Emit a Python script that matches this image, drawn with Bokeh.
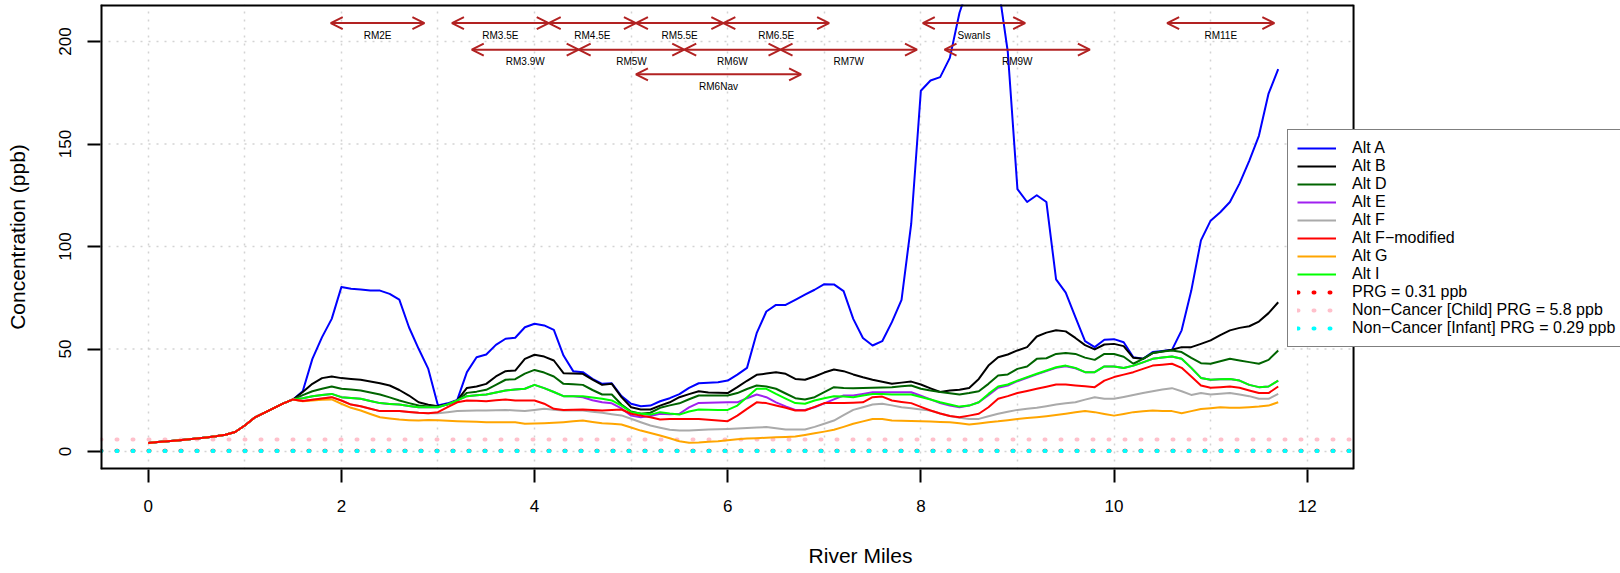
from bokeh.plotting import figure
from bokeh.models import (ColumnDataSource, Range1d, FixedTicker, Legend, LegendItem,
                          Arrow, OpenHead)
from bokeh.core.properties import value
from bokeh.embed import file_html
from bokeh.resources import INLINE

FONT = "Liberation Sans"

# ---------------- data ----------------
river_mile = [
    0.0, 0.1, 0.2, 0.3, 0.4, 0.5, 0.6, 0.7, 0.8, 0.9,
    1.0, 1.1, 1.2, 1.3, 1.4, 1.5, 1.6, 1.7, 1.8, 1.9,
    2.0, 2.1, 2.2, 2.3, 2.4, 2.5, 2.6, 2.7, 2.8, 2.9,
    3.0, 3.1, 3.2, 3.3, 3.4, 3.5, 3.6, 3.7, 3.8, 3.9,
    4.0, 4.1, 4.2, 4.3, 4.4, 4.5, 4.6, 4.7, 4.8, 4.9,
    5.0, 5.1, 5.2, 5.3, 5.4, 5.5, 5.6, 5.7, 5.8, 5.9,
    6.0, 6.1, 6.2, 6.3, 6.4, 6.5, 6.6, 6.7, 6.8, 6.9,
    7.0, 7.1, 7.2, 7.3, 7.4, 7.5, 7.6, 7.7, 7.8, 7.9,
    8.0, 8.1, 8.2, 8.3, 8.4, 8.5, 8.6, 8.7, 8.8, 8.9,
    9.0, 9.1, 9.2, 9.3, 9.4, 9.5, 9.6, 9.7, 9.8, 9.9,
    10.0, 10.1, 10.2, 10.3, 10.4, 10.5, 10.6, 10.7, 10.8, 10.9,
    11.0, 11.1, 11.2, 11.3, 11.4, 11.5, 11.6, 11.7,
]

# shared upstream part (RM 0.0 - 1.5)
upstream = [4.2, 4.6, 5.0, 5.4, 5.8, 6.3, 6.8, 7.4, 8.2, 9.5,
            12.7, 16.5, 18.8, 21.2, 23.5, 25.4]

alt_a = upstream + [
    29.4, 45.2, 55.8, 64.7, 80.2, 79.4, 79.0, 78.5, 78.5, 76.9,
    74.1, 60.6, 50.1, 40.3, 22.4, 23.5, 25.2, 38.7, 46.0, 47.3,
    52.0, 55.0, 55.5, 60.6, 62.3, 61.5, 59.3, 46.8, 39.2, 38.7,
    35.4, 33.0, 33.3, 27.0, 23.3, 22.1, 22.4, 24.5, 26.0, 28.0,
    31.0, 33.3, 33.5, 33.8, 34.6, 37.5, 40.8, 57.7, 68.3, 71.5,
    71.5, 74.0, 76.5, 78.9, 81.6, 81.5, 78.2, 64.7, 55.4, 51.7,
    53.8, 63.1, 74.0, 111.0, 176.0, 181.0, 182.6, 192.0, 214.0, 228.0,
    235.0, 233.0, 228.0, 195.0, 128.0, 121.7, 125.0, 121.7, 84.0, 77.5,
    65.5, 53.8, 50.9, 54.5, 54.8, 53.3, 46.0, 45.2, 48.5, 49.0,
    49.6, 59.1, 78.5, 103.0, 112.6, 116.7, 121.7, 130.8, 141.8, 154.0,
    174.6, 186.5]

alt_b = upstream + [
    29.0, 33.0, 35.8, 36.6, 35.8, 35.4, 35.0, 34.2, 33.3, 32.2,
    30.0, 27.3, 24.0, 22.8, 22.1, 23.0, 24.9, 31.0, 31.7, 33.0,
    36.6, 39.2, 39.5, 45.2, 47.2, 46.3, 44.4, 38.2, 38.0, 37.9,
    35.1, 32.5, 33.0, 26.5, 21.6, 20.5, 20.5, 22.4, 24.0, 26.5,
    28.0, 29.4, 28.8, 28.6, 28.5, 31.4, 34.5, 37.4, 38.0, 38.7,
    37.9, 35.4, 35.0, 36.6, 38.5, 40.0, 39.2, 37.6, 36.2, 35.0,
    34.0, 33.0, 33.6, 34.1, 32.7, 30.8, 29.0, 29.8, 30.1, 31.0,
    35.4, 41.9, 46.0, 47.3, 49.3, 50.9, 56.1, 58.0, 59.1, 58.6,
    55.4, 51.9, 49.8, 52.2, 52.5, 51.4, 45.7, 45.2, 48.0, 48.8,
    49.6, 50.9, 50.9, 52.5, 54.2, 56.8, 59.1, 60.3, 61.1, 63.4,
    67.5, 72.8]

alt_d = upstream + [
    27.5, 29.4, 30.6, 31.7, 30.6, 30.2, 29.8, 28.8, 27.8, 26.4,
    24.9, 23.6, 22.4, 22.0, 21.9, 23.0, 24.9, 28.6, 29.2, 30.1,
    32.5, 35.0, 35.3, 38.0, 39.8, 38.5, 36.6, 33.0, 32.8, 32.5,
    30.0, 27.8, 27.8, 22.9, 19.5, 18.4, 18.9, 21.3, 22.5, 23.5,
    25.5, 27.3, 27.3, 27.3, 27.3, 28.5, 30.5, 32.2, 31.7, 30.6,
    28.3, 26.0, 25.4, 26.5, 29.0, 31.4, 31.0, 30.9, 31.0, 31.1,
    31.2, 31.4, 31.8, 32.2, 30.6, 29.8, 29.0, 28.4, 27.8, 28.5,
    29.4, 33.0, 37.1, 37.6, 40.3, 41.5, 45.2, 45.5, 47.6, 48.1,
    47.6, 45.8, 44.7, 47.6, 47.6, 46.2, 42.8, 45.2, 48.0, 48.8,
    49.3, 48.5, 45.7, 43.1, 42.8, 44.0, 45.2, 44.4, 43.6, 42.8,
    44.7, 49.3]

alt_e = upstream + [
    26.0, 27.0, 27.6, 28.1, 26.5, 26.1, 25.7, 24.6, 23.6, 23.2,
    22.9, 22.2, 21.6, 21.6, 21.6, 23.0, 24.9, 27.0, 27.4, 27.8,
    28.8, 29.8, 30.2, 30.6, 32.5, 30.9, 29.0, 27.0, 27.0, 26.5,
    25.0, 24.0, 23.5, 21.0, 17.5, 16.7, 17.3, 18.4, 18.2, 18.4,
    21.5, 23.7, 23.8, 23.9, 24.0, 24.0, 26.0, 27.8, 26.5, 24.0,
    22.0, 20.3, 20.3, 21.6, 23.5, 25.4, 27.3, 27.3, 28.1, 28.9,
    28.9, 28.9, 28.9, 28.9, 27.2, 25.4, 23.6, 22.4, 21.6, 22.4,
    24.0, 27.5, 31.1, 32.2, 34.3, 36.0, 37.6, 39.2, 40.8, 41.6,
    40.6, 38.7, 38.7, 41.5, 41.5, 40.7, 41.9, 43.5, 45.2, 45.8,
    46.3, 45.2, 40.8, 35.9, 35.0, 35.2, 35.4, 34.6, 32.5, 31.4,
    31.7, 34.6]

alt_f = upstream + [
    24.6, 25.2, 25.8, 26.5, 24.9, 22.9, 22.1, 20.9, 19.7, 19.7,
    19.7, 19.3, 18.9, 18.7, 18.7, 19.2, 19.7, 19.9, 20.0, 20.0,
    20.1, 20.3, 20.0, 19.7, 20.3, 20.8, 20.4, 20.0, 20.0, 20.0,
    19.4, 18.9, 18.2, 17.6, 16.0, 14.3, 12.7, 11.6, 10.6, 10.2,
    10.3, 10.5, 10.7, 10.9, 11.0, 11.2, 11.5, 11.7, 11.9, 11.3,
    10.7, 10.7, 10.7, 12.0, 13.5, 15.1, 17.7, 20.3, 21.6, 22.9,
    23.3, 22.5, 21.6, 21.1, 20.5, 20.0, 18.5, 17.3, 16.5, 15.9,
    15.9, 17.2, 18.4, 19.4, 20.3, 20.8, 21.3, 22.1, 22.9, 23.5,
    24.0, 25.3, 26.5, 25.7, 25.7, 26.6, 27.6, 28.5, 29.4, 30.2,
    30.9, 29.4, 27.6, 28.5, 27.8, 28.2, 28.5, 27.8, 27.0, 25.7,
    25.7, 28.1]

alt_f_mod = upstream + [
    24.6, 25.2, 25.8, 26.5, 24.9, 22.9, 22.1, 20.9, 19.7, 19.7,
    19.7, 19.3, 18.9, 18.7, 19.2, 21.6, 24.0, 24.9, 24.7, 24.5,
    25.0, 25.4, 24.9, 24.9, 24.9, 23.3, 20.8, 20.3, 20.4, 20.5,
    20.2, 20.0, 20.2, 20.5, 18.4, 17.5, 16.7, 15.6, 15.8, 15.9,
    15.9, 15.9, 15.5, 15.1, 14.8, 17.5, 20.8, 24.0, 23.6, 22.4,
    21.3, 20.0, 20.0, 21.8, 23.6, 23.6, 23.7, 23.8, 24.0, 26.5,
    26.8, 24.9, 24.2, 23.6, 21.8, 20.0, 18.5, 17.3, 16.7, 17.5,
    18.4, 21.6, 25.7, 27.0, 28.5, 29.5, 30.6, 31.6, 32.7, 32.7,
    32.2, 31.8, 31.4, 34.6, 36.3, 37.5, 38.7, 40.3, 41.9, 42.3,
    42.8, 40.8, 36.6, 32.2, 31.1, 31.4, 31.7, 31.1, 29.8, 28.5,
    28.5, 31.7]

alt_g = upstream + [
    24.5, 24.9, 25.2, 25.4, 23.3, 21.3, 20.0, 18.3, 16.7, 16.1,
    15.6, 15.3, 15.1, 15.4, 15.2, 15.0, 14.8, 14.6, 14.5, 14.3,
    14.3, 14.3, 14.3, 13.5, 13.7, 13.8, 14.0, 14.3, 14.7, 15.1,
    14.4, 13.8, 13.5, 13.2, 11.7, 10.2, 9.0, 7.8, 6.5, 5.0,
    4.3, 4.4, 4.7, 5.0, 5.5, 6.0, 6.3, 6.5, 6.7, 6.9,
    7.1, 7.3, 8.1, 8.9, 9.7, 10.6, 12.0, 13.5, 14.7, 15.9,
    15.9, 15.1, 15.0, 14.9, 14.8, 14.6, 14.4, 14.3, 13.8, 13.2,
    13.7, 14.3, 14.7, 15.3, 15.9, 16.3, 16.7, 17.2, 17.8, 18.4,
    19.1, 19.7, 19.2, 18.3, 17.5, 18.3, 19.2, 19.6, 20.0, 19.8,
    19.7, 18.7, 19.7, 20.7, 21.1, 21.6, 21.4, 21.3, 21.6, 21.9,
    22.4, 24.0]

alt_i = upstream + [
    26.0, 27.0, 27.6, 28.1, 26.5, 26.1, 25.7, 24.6, 23.6, 23.2,
    22.9, 22.2, 21.6, 21.6, 21.6, 23.0, 24.9, 27.0, 27.4, 27.8,
    28.8, 29.8, 30.2, 30.6, 32.5, 30.9, 29.0, 27.0, 27.0, 27.0,
    26.3, 25.7, 24.9, 22.4, 19.2, 18.5, 18.0, 19.2, 18.5, 18.0,
    19.5, 20.5, 20.4, 20.3, 20.3, 22.4, 26.5, 30.6, 30.6, 28.1,
    25.8, 23.6, 23.3, 24.9, 26.0, 27.0, 26.8, 26.5, 27.3, 28.1,
    28.0, 27.8, 27.8, 27.8, 26.6, 25.4, 24.0, 22.9, 21.9, 22.4,
    24.0, 28.1, 31.7, 32.7, 34.6, 36.3, 37.9, 39.5, 41.1, 41.9,
    40.8, 38.7, 38.7, 41.5, 41.5, 40.7, 41.9, 43.5, 45.2, 45.8,
    46.3, 45.2, 40.8, 35.9, 35.0, 35.2, 35.4, 34.6, 32.5, 31.4,
    31.7, 34.6]

series_labels = ["Alt A", "Alt B", "Alt D", "Alt E", "Alt F",
                 "Alt F\u2212modified", "Alt G", "Alt I"]
series_values = [alt_a, alt_b, alt_d, alt_e, alt_f, alt_f_mod, alt_g, alt_i]
series_colors = ["#0000FF", "#000000", "#006400", "#A020F0", "#AAAAAA",
                 "#FF0000", "#FFA500", "#00FF00"]
draw_order = [0, 1, 2, 3, 7, 4, 6, 5]

prg_labels = ["PRG = 0.31 ppb", "Non\u2212Cancer [Child] PRG = 5.8 ppb",
              "Non\u2212Cancer [Infant] PRG = 0.29 ppb"]
prg_values = [0.31, 5.8, 0.29]
prg_colors = ["#FF0000", "#FFC0CB", "#00FFFF"]

# reach annotations (double-headed arrows)
reach_labels = ["RM2E", "RM3.5E", "RM4.5E", "RM5.5E", "RM6.5E", "SwanIs", "RM11E",
                "RM3.9W", "RM5W", "RM6W", "RM7W", "RM9W", "RM6Nav"]
reach_start = [1.89, 3.145, 4.147, 5.05, 5.955, 8.02, 10.55,
               3.35, 4.457, 5.55, 6.547, 8.245, 5.05]
reach_end = [2.86, 4.147, 5.05, 5.955, 7.05, 9.08, 11.66,
             4.457, 5.55, 6.547, 7.96, 9.75, 6.76]
reach_level = [209, 209, 209, 209, 209, 209, 209,
               196, 196, 196, 196, 196, 184]

x_ticks = [0, 2, 4, 6, 8, 10, 12]
x_grid = [0, 1, 2, 3, 4, 5, 6, 7, 8, 9, 10, 11, 12]
y_ticks = [0, 50, 100, 150, 200]

for s in series_values:
    assert len(s) == len(river_mile), (len(s), len(river_mile))

# ---------------- figure ----------------
# plot region (box) of the original chart; the frame extends to the right edge
# so that the legend, which overlaps the box border, is not cut off
x_lo, x_box_hi, x_hi = -0.4939, 12.48, 15.244
y_lo, y_hi = -8.78, 218.05

p = figure(width=1620, height=573, output_backend="svg", toolbar_location=None,
           x_range=Range1d(x_lo, x_hi), y_range=Range1d(y_lo, y_hi),
           min_border_left=100, min_border_right=0,
           min_border_top=4, min_border_bottom=104)
p.background_fill_color = "white"
p.border_fill_color = "white"
p.outline_line_color = None

for ax in (p.xaxis[0], p.yaxis[0]):
    ax.axis_line_color = None
    ax.major_tick_in = 0
    ax.major_tick_out = 13
    ax.major_tick_line_width = 2
    ax.major_tick_line_color = "black"
    ax.minor_tick_line_color = None
    ax.major_label_text_font = FONT
    ax.major_label_text_font_size = "17px"
    ax.major_label_text_color = "black"
    ax.axis_label_text_font = FONT
    ax.axis_label_text_font_size = "21px"
    ax.axis_label_text_font_style = "normal"
    ax.axis_label_text_color = "black"

p.xaxis.ticker = FixedTicker(ticks=x_ticks)
p.yaxis.ticker = FixedTicker(ticks=y_ticks)
p.xaxis.axis_label = "River Miles"
p.yaxis.axis_label = "Concentration (ppb)"
p.xaxis.major_label_standoff = 17
p.xaxis.axis_label_standoff = 29
p.yaxis.major_label_standoff = 16
p.yaxis.axis_label_standoff = 28
p.yaxis.major_label_orientation = "vertical"

# vertical grid lines (span the full box height)
p.xgrid.ticker = FixedTicker(ticks=x_grid)
p.xgrid.grid_line_color = "#D3D3D3"
p.xgrid.grid_line_width = 1.5
p.xgrid.grid_line_dash = "2 6"
p.ygrid.grid_line_color = None
# horizontal grid lines, limited to the box width
p.segment(x0=[x_lo] * len(y_ticks), x1=[x_box_hi] * len(y_ticks), y0=y_ticks, y1=y_ticks,
          line_color="#D3D3D3", line_width=1.5, line_dash="2 6")

# PRG reference lines
prg_renderers = []
for val, col in zip(prg_values, prg_colors):
    r = p.line(x=[x_lo, x_box_hi], y=[val, val], line_color=col, line_width=4,
               line_dash="1 15", line_cap="round")
    prg_renderers.append(r)

# data series
renderers = [None] * len(series_values)
for i in draw_order:
    renderers[i] = p.line(x=river_mile, y=series_values[i], line_color=series_colors[i],
                          line_width=2, line_join="round")

# reach arrows
reach_src = ColumnDataSource(dict(
    x0=reach_start, x1=reach_end, y=reach_level, label=reach_labels,
    xm=[(a + b) / 2 for a, b in zip(reach_start, reach_end)]))
arrow_col = "#B22222"
p.add_layout(Arrow(x_start="x0", y_start="y", x_end="x1", y_end="y", source=reach_src,
                   line_color=arrow_col, line_width=2,
                   start=OpenHead(size=12, line_color=arrow_col, line_width=2),
                   end=OpenHead(size=12, line_color=arrow_col, line_width=2)))
p.text(x="xm", y="y", text="label", source=reach_src, text_font=value(FONT),
       text_font_size="10px", text_align="center", text_baseline="middle",
       y_offset=12, text_color="black")

# box around the plot region (edges on the frame border are drawn wider,
# the outer half is cut by the frame)
p.segment(x0=[x_lo, x_lo, x_lo], y0=[y_lo, y_hi, y_lo],
          x1=[x_lo, x_box_hi, x_box_hi], y1=[y_hi, y_hi, y_lo],
          line_color="black", line_width=4)
p.segment(x0=[x_box_hi], y0=[y_lo], x1=[x_box_hi], y1=[y_hi],
          line_color="black", line_width=2)

# legend
items = [LegendItem(label=lab, renderers=[renderers[i]]) for i, lab in enumerate(series_labels)]
items += [LegendItem(label=lab, renderers=[r]) for lab, r in zip(prg_labels, prg_renderers)]
legend = Legend(items=items, location=(1187, 122), margin=0, padding=9, spacing=0,
                glyph_width=39, glyph_height=18, label_height=18, label_standoff=16,
                label_text_font=FONT, label_text_font_size="16px", label_text_color="black",
                border_line_color="black", border_line_width=1.5,
                background_fill_color="white", background_fill_alpha=1.0)
p.add_layout(legend)

open("out.html", "w").write(file_html(p, INLINE))
